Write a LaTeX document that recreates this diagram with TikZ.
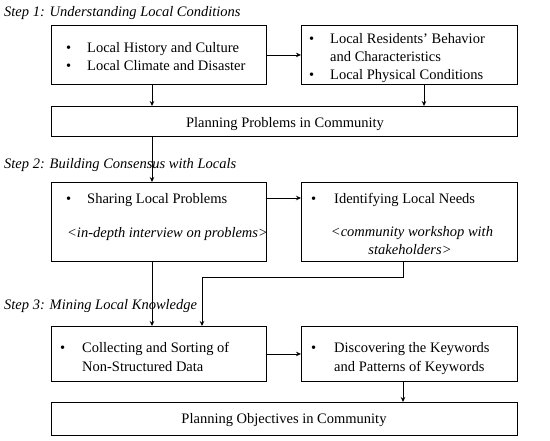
\documentclass[tikz,border=0pt]{standalone}
\usepackage{fontspec}
\setmainfont{Liberation Serif}
\usetikzlibrary{arrows.meta}
\begin{document}
\begin{tikzpicture}[x=1pt,y=-1pt,
  box/.style={draw, line width=0.9pt, anchor=north west, inner sep=0pt},
  txt/.style={anchor=base west, inner sep=0pt, font=\fontsize{14.5}{18}\selectfont},
  ctxt/.style={anchor=base, inner sep=0pt, font=\fontsize{14.5}{18}\selectfont},
  steplbl/.style={anchor=base west, inner sep=0pt, font=\fontsize{14.5}{18}\selectfont\itshape},
  conn/.style={line width=0.9pt},
  arr/.style={line width=0.9pt, -{Stealth[length=5pt,width=4.5pt]}}]
\useasboundingbox (0,0) rectangle (550,440);
% Step labels
\node[steplbl] (s1) at (4,16) {Step 1: Understanding Local Conditions};
\node[steplbl] (s2) at (4,168) {Step 2: Building Consensus with Locals};
\node[steplbl] (s3) at (4,309) {Step 3: Mining Local Knowledge};
% Boxes
\node[box, minimum width=215pt, minimum height=59pt] (A) at (51,25) {};
\node[box, minimum width=216pt, minimum height=59pt] (B) at (301,25) {};
\node[box, minimum width=466pt, minimum height=30pt] (P1) at (51,106) {};
\node[box, minimum width=215pt, minimum height=79pt] (S) at (51,182) {};
\node[box, minimum width=216pt, minimum height=79pt] (I) at (301,182) {};
\node[box, minimum width=215pt, minimum height=55pt] (C) at (51,326) {};
\node[box, minimum width=216pt, minimum height=55pt] (D) at (301,326) {};
\node[box, minimum width=466pt, minimum height=33pt] (PO) at (51,402) {};
% Texts box A
\node[txt] (a1b) at (66,52) {•};
\node[txt] (a1) at (87,52) {Local History and Culture};
\node[txt] (a2b) at (66,70) {•};
\node[txt] (a2) at (87,70) {Local Climate and Disaster};
% Box B
\node[txt] (b1b) at (309,43) {•};
\node[txt] (b1) at (330,43) {Local Residents’ Behavior};
\node[txt] (b2) at (330,61) {and Characteristics};
\node[txt] (b3b) at (309,79) {•};
\node[txt] (b3) at (330,79) {Local Physical Conditions};
% P1
\node[ctxt] (p1t) at (285,127) {Planning Problems in Community};
% S
\node[txt] (s1b) at (66,203) {•};
\node[txt] (s1t) at (87,203) {Sharing Local Problems};
\node[txt] (s2t) at (67,237) {\itshape <in-depth interview on problems>};
% I
\node[txt] (i1b) at (311,203) {•};
\node[txt] (i1t) at (334,203) {Identifying Local Needs};
\node[ctxt] (i2t) at (412,236) {\itshape <community workshop with};
\node[ctxt] (i3t) at (410,254) {\itshape stakeholders>};
% C
\node[txt] (c1b) at (60,352) {•};
\node[txt] (c1t) at (82,352) {Collecting and Sorting of};
\node[txt] (c2t) at (82,371) {Non-Structured Data};
% D
\node[txt] (d1b) at (311,352) {•};
\node[txt] (d1t) at (334,352) {Discovering the Keywords};
\node[txt] (d2t) at (334,371) {and Patterns of Keywords};
% PO
\node[ctxt] (pot) at (284,423) {Planning Objectives in Community};
% Connectors
\draw[arr] (A.east) -- (B.west);
\draw[arr] (A.south -| 152,0) -- (P1.north -| 152,0);
\draw[arr] (B.south -| 424,0) -- (P1.north -| 424,0);
\draw[arr] (P1.south -| 152,0) -- (S.north -| 152,0);
\draw[arr] (S.east |- 0,198) -- (I.west |- 0,198);
\draw[arr] (S.south -| 152,0) -- (C.north -| 152,0);
\coordinate (k1) at (403,277);
\coordinate (k2) at (202,277);
\draw[arr] (I.south -| k1) -- (k1) -- (k2) -- (C.north -| k2);
\draw[arr] (C.east) -- (D.west);
\draw[arr] (D.south -| 403,0) -- (PO.north -| 403,0);
\end{tikzpicture}
\end{document}
